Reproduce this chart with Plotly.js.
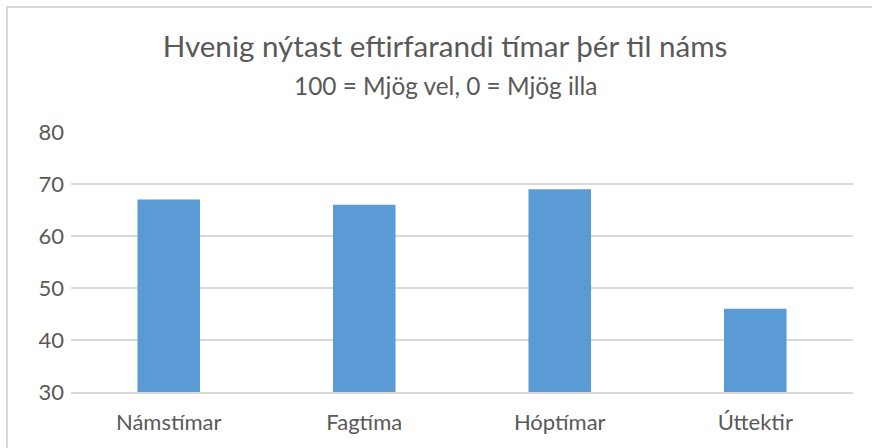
<!DOCTYPE html>
<html>
<head>
<meta charset="utf-8">
<script src="https://cdn.plot.ly/plotly-3.0.1.min.js"></script>
<style>
  html, body { margin: 0; padding: 0; background: #ffffff; }
  #wrap { position: relative; width: 872px; height: 448px; overflow: hidden; }
  #frame { position: absolute; left: 6px; top: 6px; width: 900px; height: 500px;
           border-left: 2px solid #d9d9d9; border-top: 2px solid #d9d9d9; box-sizing: border-box; pointer-events: none; }
  #chart { position: absolute; left: 0; top: 0; width: 872px; height: 448px; }
</style>
</head>
<body>
<div id="wrap">
  <div id="chart"></div>
  <div id="frame"></div>
</div>
<script>
const categories = ["Námstímar", "Fagtíma", "Hóptímar", "Úttektir"];
const values = [67, 66, 69, 46];
const titleText = "Hvenig nýtast eftirfarandi tímar þér til náms";
const subtitleText = "100 = Mjög vel, 0 = Mjög illa";
const yTicks = [30, 40, 50, 60, 70, 80];

const FONT = "Lato, 'Open Sans', sans-serif";

const trace = {
  type: "bar",
  x: categories,
  y: values,
  marker: { color: "#5b9bd5", line: { width: 0 } },
  hoverinfo: "x+y"
};

const layout = {
  width: 872,
  height: 448,
  margin: { l: 71, r: 19, t: 132, b: 56 },
  paper_bgcolor: "#ffffff",
  plot_bgcolor: "#ffffff",
  bargap: 0.68,
  showlegend: false,
  font: { family: FONT, color: "#595959" },
  title: {
    text: titleText,
    font: { family: FONT, size: 29.6, color: "#595959" },
    x: 445 / 872, xanchor: "center",
    xref: "container", yref: "container",
    y: 1 - 47 / 448, yanchor: "middle"
  },
  annotations: [{
    text: subtitleText,
    xref: "paper", yref: "paper",
    x: (445 - 71) / 782, y: (392 - 85) / 260,
    xanchor: "center", yanchor: "middle",
    showarrow: false,
    font: { family: FONT, size: 24.4, color: "#595959" }
  }],
  xaxis: {
    type: "category",
    showgrid: false,
    showline: true,
    linecolor: "#d9d9d9",
    linewidth: 1.5,
    ticks: "",
    tickfont: { family: FONT, size: 22, color: "#595959" },
    ticklabelstandoff: 10,
    fixedrange: true
  },
  yaxis: {
    range: [30, 80],
    tickvals: yTicks,
    ticktext: yTicks.map(String),
    showgrid: true,
    gridcolor: "#d9d9d9",
    gridwidth: 1.5,
    zeroline: false,
    showline: false,
    ticks: "",
    tickfont: { family: FONT, size: 22, color: "#595959" },
    ticklabelstandoff: 6,
    fixedrange: true
  }
};

Plotly.newPlot("chart", [trace], layout, { displayModeBar: false, staticPlot: true });
</script>
</body>
</html>
